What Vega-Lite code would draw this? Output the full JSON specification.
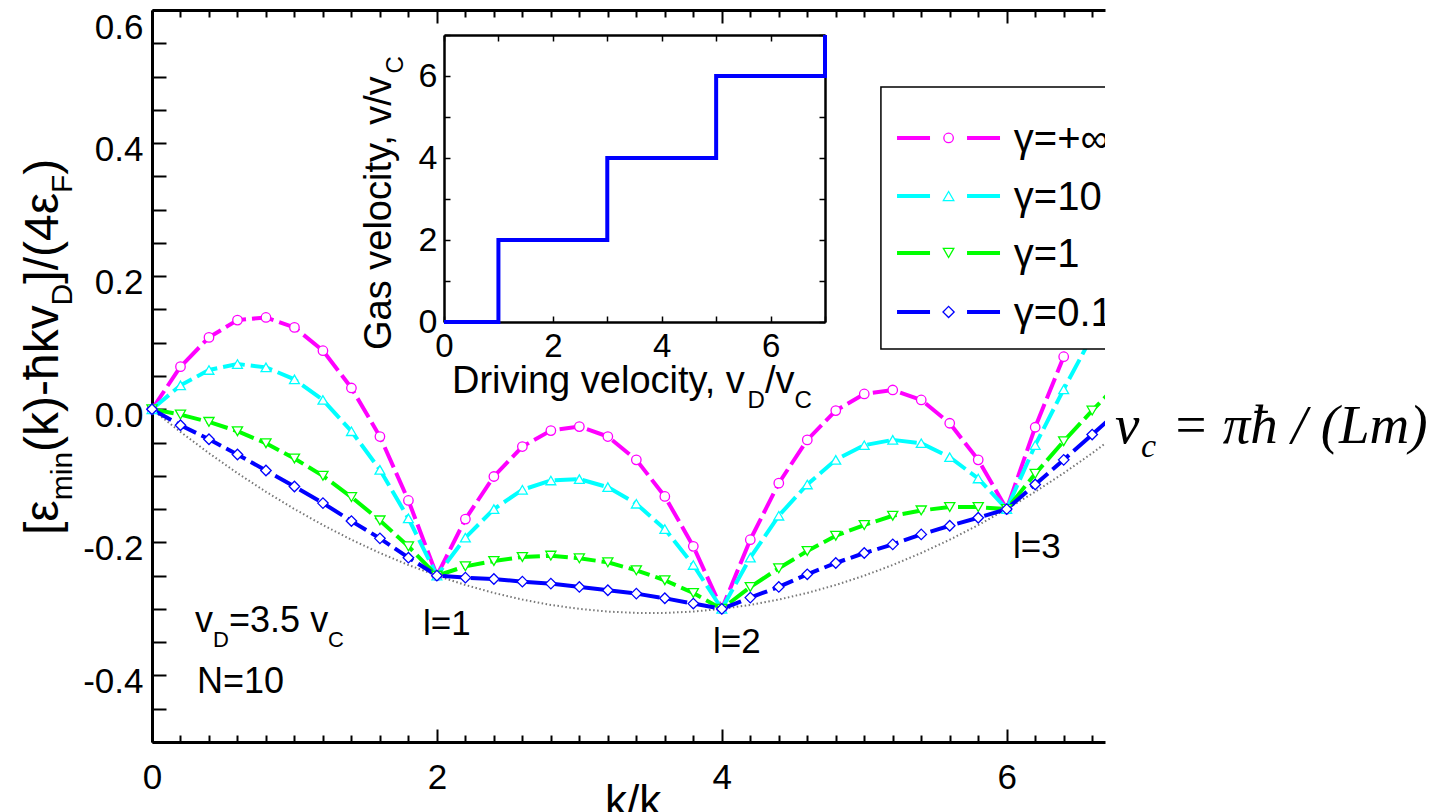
{
  "$schema": "https://vega.github.io/schema/vega-lite/v6.json",
  "autosize": {"type": "none"},
  "padding": {"left": 152, "top": 10, "right": 342, "bottom": 70},
  "width": 953,
  "height": 732,
  "background": "white",
  "config": {
    "view": {"stroke": null},
    "axis": {"grid": false, "domainColor": "black", "tickColor": "black", "labelColor": "black", "labelFont": "Liberation Sans", "titleFont": "Liberation Sans"},
    "text": {"font": "Liberation Sans", "color": "black"}
  },
  "datasets": {
    "curves": [
      {"series": "γ=+∞", "k": 0, "e": 0}, {"series": "γ=+∞", "k": 0.2, "e": 0.064}, {"series": "γ=+∞", "k": 0.4, "e": 0.108}, {"series": "γ=+∞", "k": 0.6, "e": 0.134}, {"series": "γ=+∞", "k": 0.8, "e": 0.138}, {"series": "γ=+∞", "k": 1, "e": 0.123}, {"series": "γ=+∞", "k": 1.2, "e": 0.088}, {"series": "γ=+∞", "k": 1.4, "e": 0.032}, {"series": "γ=+∞", "k": 1.6, "e": -0.041}, {"series": "γ=+∞", "k": 1.8, "e": -0.137}, {"series": "γ=+∞", "k": 2, "e": -0.25}, {"series": "γ=+∞", "k": 2.2, "e": -0.165}, {"series": "γ=+∞", "k": 2.4, "e": -0.101}, {"series": "γ=+∞", "k": 2.6, "e": -0.056}, {"series": "γ=+∞", "k": 2.8, "e": -0.032}, {"series": "γ=+∞", "k": 3, "e": -0.026}, {"series": "γ=+∞", "k": 3.2, "e": -0.041}, {"series": "γ=+∞", "k": 3.4, "e": -0.076}, {"series": "γ=+∞", "k": 3.6, "e": -0.131}, {"series": "γ=+∞", "k": 3.8, "e": -0.206}, {"series": "γ=+∞", "k": 4, "e": -0.3}, {"series": "γ=+∞", "k": 4.2, "e": -0.196}, {"series": "γ=+∞", "k": 4.4, "e": -0.111}, {"series": "γ=+∞", "k": 4.6, "e": -0.046}, {"series": "γ=+∞", "k": 4.8, "e": -0.002}, {"series": "γ=+∞", "k": 5, "e": 0.023}, {"series": "γ=+∞", "k": 5.2, "e": 0.029}, {"series": "γ=+∞", "k": 5.4, "e": 0.014}, {"series": "γ=+∞", "k": 5.6, "e": -0.021}, {"series": "γ=+∞", "k": 5.8, "e": -0.076}, {"series": "γ=+∞", "k": 6, "e": -0.15}, {"series": "γ=+∞", "k": 6.2, "e": -0.027}, {"series": "γ=+∞", "k": 6.4, "e": 0.079}, {"series": "γ=+∞", "k": 6.6, "e": 0.17}, {"series": "γ=+∞", "k": 6.8, "e": 0.25},
      {"series": "γ=10", "k": 0, "e": 0}, {"series": "γ=10", "k": 0.2, "e": 0.036}, {"series": "γ=10", "k": 0.4, "e": 0.059}, {"series": "γ=10", "k": 0.6, "e": 0.068}, {"series": "γ=10", "k": 0.8, "e": 0.063}, {"series": "γ=10", "k": 1, "e": 0.045}, {"series": "γ=10", "k": 1.2, "e": 0.014}, {"series": "γ=10", "k": 1.4, "e": -0.033}, {"series": "γ=10", "k": 1.6, "e": -0.091}, {"series": "γ=10", "k": 1.8, "e": -0.164}, {"series": "γ=10", "k": 2, "e": -0.25}, {"series": "γ=10", "k": 2.2, "e": -0.193}, {"series": "γ=10", "k": 2.4, "e": -0.15}, {"series": "γ=10", "k": 2.6, "e": -0.121}, {"series": "γ=10", "k": 2.8, "e": -0.107}, {"series": "γ=10", "k": 3, "e": -0.105}, {"series": "γ=10", "k": 3.2, "e": -0.117}, {"series": "γ=10", "k": 3.4, "e": -0.142}, {"series": "γ=10", "k": 3.6, "e": -0.18}, {"series": "γ=10", "k": 3.8, "e": -0.234}, {"series": "γ=10", "k": 4, "e": -0.3}, {"series": "γ=10", "k": 4.2, "e": -0.223}, {"series": "γ=10", "k": 4.4, "e": -0.16}, {"series": "γ=10", "k": 4.6, "e": -0.113}, {"series": "γ=10", "k": 4.8, "e": -0.076}, {"series": "γ=10", "k": 5, "e": -0.054}, {"series": "γ=10", "k": 5.2, "e": -0.046}, {"series": "γ=10", "k": 5.4, "e": -0.051}, {"series": "γ=10", "k": 5.6, "e": -0.072}, {"series": "γ=10", "k": 5.8, "e": -0.104}, {"series": "γ=10", "k": 6, "e": -0.15}, {"series": "γ=10", "k": 6.2, "e": -0.054}, {"series": "γ=10", "k": 6.4, "e": 0.03}, {"series": "γ=10", "k": 6.6, "e": 0.11}, {"series": "γ=10", "k": 6.8, "e": 0.18},
      {"series": "γ=1", "k": 0, "e": 0}, {"series": "γ=1", "k": 0.2, "e": -0.008}, {"series": "γ=1", "k": 0.4, "e": -0.019}, {"series": "γ=1", "k": 0.6, "e": -0.033}, {"series": "γ=1", "k": 0.8, "e": -0.051}, {"series": "γ=1", "k": 1, "e": -0.074}, {"series": "γ=1", "k": 1.2, "e": -0.1}, {"series": "γ=1", "k": 1.4, "e": -0.132}, {"series": "γ=1", "k": 1.6, "e": -0.167}, {"series": "γ=1", "k": 1.8, "e": -0.206}, {"series": "γ=1", "k": 2, "e": -0.25}, {"series": "γ=1", "k": 2.2, "e": -0.236}, {"series": "γ=1", "k": 2.4, "e": -0.228}, {"series": "γ=1", "k": 2.6, "e": -0.222}, {"series": "γ=1", "k": 2.8, "e": -0.22}, {"series": "γ=1", "k": 3, "e": -0.224}, {"series": "γ=1", "k": 3.2, "e": -0.23}, {"series": "γ=1", "k": 3.4, "e": -0.242}, {"series": "γ=1", "k": 3.6, "e": -0.257}, {"series": "γ=1", "k": 3.8, "e": -0.276}, {"series": "γ=1", "k": 4, "e": -0.3}, {"series": "γ=1", "k": 4.2, "e": -0.267}, {"series": "γ=1", "k": 4.4, "e": -0.239}, {"series": "γ=1", "k": 4.6, "e": -0.213}, {"series": "γ=1", "k": 4.8, "e": -0.19}, {"series": "γ=1", "k": 5, "e": -0.174}, {"series": "γ=1", "k": 5.2, "e": -0.16}, {"series": "γ=1", "k": 5.4, "e": -0.152}, {"series": "γ=1", "k": 5.6, "e": -0.147}, {"series": "γ=1", "k": 5.8, "e": -0.147}, {"series": "γ=1", "k": 6, "e": -0.15}, {"series": "γ=1", "k": 6.2, "e": -0.097}, {"series": "γ=1", "k": 6.4, "e": -0.048}, {"series": "γ=1", "k": 6.6, "e": -0.002}, {"series": "γ=1", "k": 6.8, "e": 0.042},
      {"series": "γ=0.1", "k": 0, "e": 0}, {"series": "γ=0.1", "k": 0.2, "e": -0.024}, {"series": "γ=0.1", "k": 0.4, "e": -0.045}, {"series": "γ=0.1", "k": 0.6, "e": -0.068}, {"series": "γ=0.1", "k": 0.8, "e": -0.092}, {"series": "γ=0.1", "k": 1, "e": -0.116}, {"series": "γ=0.1", "k": 1.2, "e": -0.141}, {"series": "γ=0.1", "k": 1.4, "e": -0.168}, {"series": "γ=0.1", "k": 1.6, "e": -0.194}, {"series": "γ=0.1", "k": 1.8, "e": -0.223}, {"series": "γ=0.1", "k": 2, "e": -0.25}, {"series": "γ=0.1", "k": 2.2, "e": -0.253}, {"series": "γ=0.1", "k": 2.4, "e": -0.255}, {"series": "γ=0.1", "k": 2.6, "e": -0.259}, {"series": "γ=0.1", "k": 2.8, "e": -0.262}, {"series": "γ=0.1", "k": 3, "e": -0.267}, {"series": "γ=0.1", "k": 3.2, "e": -0.272}, {"series": "γ=0.1", "k": 3.4, "e": -0.277}, {"series": "γ=0.1", "k": 3.6, "e": -0.284}, {"series": "γ=0.1", "k": 3.8, "e": -0.292}, {"series": "γ=0.1", "k": 4, "e": -0.3}, {"series": "γ=0.1", "k": 4.2, "e": -0.283}, {"series": "γ=0.1", "k": 4.4, "e": -0.267}, {"series": "γ=0.1", "k": 4.6, "e": -0.248}, {"series": "γ=0.1", "k": 4.8, "e": -0.231}, {"series": "γ=0.1", "k": 5, "e": -0.216}, {"series": "γ=0.1", "k": 5.2, "e": -0.203}, {"series": "γ=0.1", "k": 5.4, "e": -0.188}, {"series": "γ=0.1", "k": 5.6, "e": -0.175}, {"series": "γ=0.1", "k": 5.8, "e": -0.163}, {"series": "γ=0.1", "k": 6, "e": -0.15}, {"series": "γ=0.1", "k": 6.2, "e": -0.113}, {"series": "γ=0.1", "k": 6.4, "e": -0.076}, {"series": "γ=0.1", "k": 6.6, "e": -0.038}, {"series": "γ=0.1", "k": 6.8, "e": 0}
    ],
    "envelope": [
      {"k": 0, "e": 0}, {"k": 0.2, "e": -0.034}, {"k": 0.4, "e": -0.066}, {"k": 0.6, "e": -0.096}, {"k": 0.8, "e": -0.124}, {"k": 1, "e": -0.15}, {"k": 1.2, "e": -0.174}, {"k": 1.4, "e": -0.196}, {"k": 1.6, "e": -0.216}, {"k": 1.8, "e": -0.234}, {"k": 2, "e": -0.25}, {"k": 2.2, "e": -0.264}, {"k": 2.4, "e": -0.276}, {"k": 2.6, "e": -0.286}, {"k": 2.8, "e": -0.294}, {"k": 3, "e": -0.3}, {"k": 3.2, "e": -0.304}, {"k": 3.4, "e": -0.306}, {"k": 3.6, "e": -0.306}, {"k": 3.8, "e": -0.304}, {"k": 4, "e": -0.3}, {"k": 4.2, "e": -0.294}, {"k": 4.4, "e": -0.286}, {"k": 4.6, "e": -0.276}, {"k": 4.8, "e": -0.264}, {"k": 5, "e": -0.25}, {"k": 5.2, "e": -0.234}, {"k": 5.4, "e": -0.216}, {"k": 5.6, "e": -0.196}, {"k": 5.8, "e": -0.174}, {"k": 6, "e": -0.15}, {"k": 6.2, "e": -0.124}, {"k": 6.4, "e": -0.096}, {"k": 6.6, "e": -0.066}, {"k": 6.8, "e": -0.034}
    ],
    "steps": [
      {"vd": 0, "v": 0}, {"vd": 1, "v": 2}, {"vd": 3, "v": 4}, {"vd": 5, "v": 6}, {"vd": 7, "v": 7}
    ]
  },
  "layer": [
    {
      "layer": [
        {
          "data": {"name": "envelope"},
          "mark": {"type": "line", "color": "#777777", "strokeWidth": 2, "strokeDash": [1.5, 2.5], "clip": true},
          "encoding": {
            "x": {"field": "k", "type": "quantitative", "scale": {"domain": [0, 6.69], "nice": false, "zero": false},
              "axis": {"orient": "bottom", "title": null, "values": [0, 2, 4, 6], "format": "d",
                "ticks": false, "tickSize": 0, "domainWidth": 3, "labelFontSize": 35, "labelPadding": 18,
                "labelFlush": false, "labelOverlap": false, "labelBound": false}},
            "y": {"field": "e", "type": "quantitative", "scale": {"domain": [-0.5, 0.6], "nice": false, "zero": false},
              "axis": {"orient": "left", "title": null, "values": [-0.4, -0.2, 0, 0.2, 0.4, 0.6],
                "labelExpr": "(datum.value < -0.001 ? '-' : '') + format(abs(datum.value), '.1f')",
                "ticks": false, "tickSize": 0, "domainWidth": 3, "labelFontSize": 35, "labelPadding": 9,
                "labelFlush": true, "labelFlushOffset": 6, "labelOffset": 6,
                "labelOverlap": false, "labelBound": false}}
          }
        },
        {
          "data": {"name": "curves"},
          "mark": {"type": "line", "strokeWidth": 4, "strokeDash": [22, 6], "clip": true},
          "encoding": {
            "x": {"field": "k", "type": "quantitative",
              "axis": {"orient": "top", "offset": -732, "title": null, "labels": false, "domain": false,
                "values": [0, 0.2, 0.4, 0.6, 0.8, 1, 1.2, 1.4, 1.6, 1.8, 2, 2.2, 2.4, 2.6, 2.8, 3, 3.2, 3.4, 3.6, 3.8, 4, 4.2, 4.4, 4.6, 4.8, 5, 5.2, 5.4, 5.6, 5.8, 6, 6.2, 6.4, 6.6],
                "tickSize": {"condition": {"test": "datum.value % 2 === 0", "value": 13}, "value": 7},
                "tickWidth": 2}},
            "y": {"field": "e", "type": "quantitative",
              "axis": {"orient": "right", "offset": -953, "title": null, "labels": false, "domain": false,
                "values": [-0.5, -0.45, -0.4, -0.35, -0.3, -0.25, -0.2, -0.15, -0.1, -0.05, 0, 0.05, 0.1, 0.15, 0.2, 0.25, 0.3, 0.35, 0.4, 0.45, 0.5, 0.55, 0.6],
                "tickSize": 14, "tickWidth": 2}},
            "color": {"field": "series", "type": "nominal", "legend": null,
              "scale": {"domain": ["γ=+∞", "γ=10", "γ=1", "γ=0.1"], "range": ["#ff00ff", "#00ffff", "#00ff00", "#0000ff"]}}
          }
        },
        {
          "data": {"name": "curves"},
          "transform": [{"filter": "datum.k < 6.7"}],
          "mark": {"type": "point", "filled": false, "fill": "white", "fillOpacity": 1, "strokeWidth": 1.3, "opacity": 1, "clip": false},
          "encoding": {
            "x": {"field": "k", "type": "quantitative",
              "axis": {"orient": "top", "title": null, "labels": false, "ticks": false, "tickSize": 0, "domainWidth": 3}},
            "y": {"field": "e", "type": "quantitative", "axis": null},
            "color": {"field": "series", "type": "nominal", "legend": null,
              "scale": {"domain": ["γ=+∞", "γ=10", "γ=1", "γ=0.1"], "range": ["#ff00ff", "#00ffff", "#00ff00", "#0000ff"]}},
            "shape": {"field": "series", "type": "nominal", "legend": null,
              "scale": {"domain": ["γ=+∞", "γ=10", "γ=1", "γ=0.1"], "range": ["circle", "triangle-up", "triangle-down", "diamond"]}},
            "size": {"field": "series", "type": "ordinal", "legend": null,
              "scale": {"domain": ["γ=+∞", "γ=10", "γ=1", "γ=0.1"], "range": [90, 110, 110, 125]}}
          }
        },
        {
          "data": {"values": [{}]},
          "mark": {"type": "rect", "fill": "white", "stroke": "black", "strokeWidth": 1.5, "clip": true},
          "encoding": {
            "x": {"datum": 5.117, "type": "quantitative",
              "axis": {"orient": "bottom", "offset": -732, "title": null, "labels": false, "domain": false,
                "values": [0, 0.2, 0.4, 0.6, 0.8, 1, 1.2, 1.4, 1.6, 1.8, 2, 2.2, 2.4, 2.6, 2.8, 3, 3.2, 3.4, 3.6, 3.8, 4, 4.2, 4.4, 4.6, 4.8, 5, 5.2, 5.4, 5.6, 5.8, 6, 6.2, 6.4, 6.6],
                "tickSize": {"condition": {"test": "datum.value % 2 === 0", "value": 13}, "value": 7},
                "tickWidth": 2}},
            "x2": {"datum": 7.5}, "y": {"datum": 0.4843, "type": "quantitative", "axis": null}, "y2": {"datum": 0.0906}}
        },
        {"data": {"values": [{}]}, "mark": {"type": "rule", "color": "#ff00ff", "strokeWidth": 4, "strokeDash": [33, 37], "clip": true},
          "encoding": {"x": {"datum": 5.23, "type": "quantitative", "axis": null}, "x2": {"datum": 5.953}, "y": {"datum": 0.4077, "type": "quantitative", "axis": null}}},
        {"data": {"values": [{}]}, "mark": {"type": "rule", "color": "#00ffff", "strokeWidth": 4, "strokeDash": [33, 37], "clip": true},
          "encoding": {"x": {"datum": 5.23, "type": "quantitative", "axis": null}, "x2": {"datum": 5.953}, "y": {"datum": 0.3205, "type": "quantitative", "axis": null}}},
        {"data": {"values": [{}]}, "mark": {"type": "rule", "color": "#00ff00", "strokeWidth": 4, "strokeDash": [33, 37], "clip": true},
          "encoding": {"x": {"datum": 5.23, "type": "quantitative", "axis": null}, "x2": {"datum": 5.953}, "y": {"datum": 0.2349, "type": "quantitative", "axis": null}}},
        {"data": {"values": [{}]}, "mark": {"type": "rule", "color": "#0000ff", "strokeWidth": 4, "strokeDash": [33, 37], "clip": true},
          "encoding": {"x": {"datum": 5.23, "type": "quantitative", "axis": null}, "x2": {"datum": 5.953}, "y": {"datum": 0.1462, "type": "quantitative", "axis": null}}},
        {"data": {"values": [{}]}, "mark": {"type": "point", "shape": "circle", "size": 90, "filled": false, "fill": "white", "fillOpacity": 1, "stroke": "#ff00ff", "strokeWidth": 1.3, "opacity": 1, "clip": true},
          "encoding": {"x": {"datum": 5.592, "type": "quantitative", "axis": null}, "y": {"datum": 0.4077, "type": "quantitative", "axis": null}}},
        {"data": {"values": [{}]}, "mark": {"type": "point", "shape": "triangle-up", "size": 110, "filled": false, "fill": "white", "fillOpacity": 1, "stroke": "#00ffff", "strokeWidth": 1.3, "opacity": 1, "clip": true},
          "encoding": {"x": {"datum": 5.592, "type": "quantitative", "axis": null}, "y": {"datum": 0.3205, "type": "quantitative", "axis": null}}},
        {"data": {"values": [{}]}, "mark": {"type": "point", "shape": "triangle-down", "size": 110, "filled": false, "fill": "white", "fillOpacity": 1, "stroke": "#00ff00", "strokeWidth": 1.3, "opacity": 1, "clip": true},
          "encoding": {"x": {"datum": 5.592, "type": "quantitative", "axis": null}, "y": {"datum": 0.2349, "type": "quantitative", "axis": null}}},
        {"data": {"values": [{}]}, "mark": {"type": "point", "shape": "diamond", "size": 125, "filled": false, "fill": "white", "fillOpacity": 1, "stroke": "#0000ff", "strokeWidth": 1.3, "opacity": 1, "clip": true},
          "encoding": {"x": {"datum": 5.592, "type": "quantitative", "axis": null}, "y": {"datum": 0.1462, "type": "quantitative", "axis": null}}},
        {"data": {"values": [{}]}, "mark": {"type": "text", "text": "γ=+∞", "align": "left", "baseline": "middle", "fontSize": 40, "clip": true},
          "encoding": {"x": {"datum": 6.05, "type": "quantitative", "axis": null}, "y": {"datum": 0.4047, "type": "quantitative", "axis": null}}},
        {"data": {"values": [{}]}, "mark": {"type": "text", "text": "γ=10", "align": "left", "baseline": "middle", "fontSize": 40, "clip": true},
          "encoding": {"x": {"datum": 6.05, "type": "quantitative", "axis": null}, "y": {"datum": 0.3175, "type": "quantitative", "axis": null}}},
        {"data": {"values": [{}]}, "mark": {"type": "text", "text": "γ=1", "align": "left", "baseline": "middle", "fontSize": 40, "clip": true},
          "encoding": {"x": {"datum": 6.05, "type": "quantitative", "axis": null}, "y": {"datum": 0.2319, "type": "quantitative", "axis": null}}},
        {"data": {"values": [{}]}, "mark": {"type": "text", "text": "γ=0.1", "align": "left", "baseline": "middle", "fontSize": 40, "clip": true},
          "encoding": {"x": {"datum": 6.05, "type": "quantitative", "axis": null}, "y": {"datum": 0.1432, "type": "quantitative", "axis": null}}},
        {"data": {"values": [{}]}, "mark": {"type": "text", "text": "v", "align": "left", "baseline": "alphabetic", "fontSize": 36},
          "encoding": {"x": {"datum": 0.302, "type": "quantitative", "axis": null}, "y": {"datum": -0.3346, "type": "quantitative", "axis": null}}},
        {"data": {"values": [{}]}, "mark": {"type": "text", "text": "D", "align": "left", "baseline": "alphabetic", "fontSize": 22},
          "encoding": {"x": {"datum": 0.428, "type": "quantitative", "axis": null}, "y": {"datum": -0.3572, "type": "quantitative", "axis": null}}},
        {"data": {"values": [{}]}, "mark": {"type": "text", "text": "=3.5 v", "align": "left", "baseline": "alphabetic", "fontSize": 36},
          "encoding": {"x": {"datum": 0.541, "type": "quantitative", "axis": null}, "y": {"datum": -0.3346, "type": "quantitative", "axis": null}}},
        {"data": {"values": [{}]}, "mark": {"type": "text", "text": "C", "align": "left", "baseline": "alphabetic", "fontSize": 22},
          "encoding": {"x": {"datum": 1.236, "type": "quantitative", "axis": null}, "y": {"datum": -0.3572, "type": "quantitative", "axis": null}}},
        {"data": {"values": [{}]}, "mark": {"type": "text", "text": "N=10", "align": "left", "baseline": "alphabetic", "fontSize": 36},
          "encoding": {"x": {"datum": 0.316, "type": "quantitative", "axis": null}, "y": {"datum": -0.4263, "type": "quantitative", "axis": null}}},
        {"data": {"values": [{}]}, "mark": {"type": "text", "text": "l=1", "align": "left", "baseline": "alphabetic", "fontSize": 35},
          "encoding": {"x": {"datum": 1.902, "type": "quantitative", "axis": null}, "y": {"datum": -0.3391, "type": "quantitative", "axis": null}}},
        {"data": {"values": [{}]}, "mark": {"type": "text", "text": "l=2", "align": "left", "baseline": "alphabetic", "fontSize": 35},
          "encoding": {"x": {"datum": 3.938, "type": "quantitative", "axis": null}, "y": {"datum": -0.3662, "type": "quantitative", "axis": null}}},
        {"data": {"values": [{}]}, "mark": {"type": "text", "text": "l=3", "align": "left", "baseline": "alphabetic", "fontSize": 35},
          "encoding": {"x": {"datum": 6.044, "type": "quantitative", "axis": null}, "y": {"datum": -0.2234, "type": "quantitative", "axis": null}}},
        {"data": {"values": [{}]}, "mark": {"type": "text", "text": "k/k", "align": "left", "baseline": "alphabetic", "fontSize": 44},
          "encoding": {"x": {"datum": 3.18, "type": "quantitative", "axis": null}, "y": {"datum": -0.6111, "type": "quantitative", "axis": null}}},
        {"data": {"values": [{}]}, "mark": {"type": "text", "text": "F", "align": "left", "baseline": "alphabetic", "fontSize": 27},
          "encoding": {"x": {"datum": 3.575, "type": "quantitative", "axis": null}, "y": {"datum": -0.6411, "type": "quantitative", "axis": null}}},
        {"data": {"values": [{}]}, "mark": {"type": "text", "text": "[ε", "angle": 270, "align": "left", "baseline": "alphabetic", "fontSize": 48},
          "encoding": {"x": {"datum": -0.66, "type": "quantitative", "axis": null}, "y": {"datum": -0.1889, "type": "quantitative", "axis": null}}},
        {"data": {"values": [{}]}, "mark": {"type": "text", "text": "min", "angle": 270, "align": "left", "baseline": "alphabetic", "fontSize": 30},
          "encoding": {"x": {"datum": -0.562, "type": "quantitative", "axis": null}, "y": {"datum": -0.1367, "type": "quantitative", "axis": null}}},
        {"data": {"values": [{}]}, "mark": {"type": "text", "text": "(k)-ħkv", "angle": 270, "align": "left", "baseline": "alphabetic", "fontSize": 48},
          "encoding": {"x": {"datum": -0.66, "type": "quantitative", "axis": null}, "y": {"datum": -0.0642, "type": "quantitative", "axis": null}}},
        {"data": {"values": [{}]}, "mark": {"type": "text", "text": "D", "angle": 270, "align": "left", "baseline": "alphabetic", "fontSize": 30},
          "encoding": {"x": {"datum": -0.562, "type": "quantitative", "axis": null}, "y": {"datum": 0.1561, "type": "quantitative", "axis": null}}},
        {"data": {"values": [{}]}, "mark": {"type": "text", "text": "]/(4ε", "angle": 270, "align": "left", "baseline": "alphabetic", "fontSize": 48},
          "encoding": {"x": {"datum": -0.66, "type": "quantitative", "axis": null}, "y": {"datum": 0.1887, "type": "quantitative", "axis": null}}},
        {"data": {"values": [{}]}, "mark": {"type": "text", "text": "F", "angle": 270, "align": "left", "baseline": "alphabetic", "fontSize": 30},
          "encoding": {"x": {"datum": -0.562, "type": "quantitative", "axis": null}, "y": {"datum": 0.325, "type": "quantitative", "axis": null}}},
        {"data": {"values": [{}]}, "mark": {"type": "text", "text": ")", "angle": 270, "align": "left", "baseline": "alphabetic", "fontSize": 48},
          "encoding": {"x": {"datum": -0.66, "type": "quantitative", "axis": null}, "y": {"datum": 0.3525, "type": "quantitative", "axis": null}}},
        {"data": {"values": [{}]}, "mark": {"type": "text", "text": "v", "align": "left", "baseline": "alphabetic", "fontSize": 55, "font": "Liberation Serif", "fontStyle": "italic"},
          "encoding": {"x": {"datum": 6.76, "type": "quantitative", "axis": null}, "y": {"datum": -0.0506, "type": "quantitative", "axis": null}}},
        {"data": {"values": [{}]}, "mark": {"type": "text", "text": "c", "align": "left", "baseline": "alphabetic", "fontSize": 34, "font": "Liberation Serif", "fontStyle": "italic"},
          "encoding": {"x": {"datum": 6.943, "type": "quantitative", "axis": null}, "y": {"datum": -0.0717, "type": "quantitative", "axis": null}}},
        {"data": {"values": [{}]}, "mark": {"type": "text", "text": "= πħ / (Lm)", "align": "left", "baseline": "alphabetic", "fontSize": 55, "font": "Liberation Serif", "fontStyle": "italic"},
          "encoding": {"x": {"datum": 7.16, "type": "quantitative", "axis": null}, "y": {"datum": -0.0506, "type": "quantitative", "axis": null}}}
      ],
      "resolve": {"axis": {"x": "independent", "y": "independent"}}
    },
    {
      "layer": [
        {
          "data": {"name": "steps"},
          "mark": {"type": "line", "interpolate": "step-after", "color": "#0000ff", "strokeWidth": 4},
          "encoding": {
            "x": {"field": "vd", "type": "quantitative", "scale": {"domain": [0, 7], "range": [292, 673], "nice": false, "zero": false},
              "axis": {"orient": "bottom", "offset": -420, "title": null, "values": [0, 2, 4, 6], "format": "d",
                "ticks": false, "tickSize": 0, "domainWidth": 2.5, "labelFontSize": 33, "labelPadding": 8,
                "labelFlush": false, "labelOverlap": false, "labelBound": false}},
            "y": {"field": "v", "type": "quantitative", "scale": {"domain": [0, 7], "range": [312, 25], "nice": false, "zero": false},
              "axis": {"orient": "left", "offset": -292, "title": null, "values": [0, 2, 4, 6], "format": "d",
                "ticks": false, "tickSize": 0, "domainWidth": 2.5, "labelFontSize": 34, "labelPadding": 7,
                "labelFlush": false, "labelOverlap": false, "labelBound": false}}
          }
        },
        {"data": {"values": [{}]}, "mark": {"type": "text", "text": "Driving velocity, v", "align": "left", "baseline": "alphabetic", "fontSize": 38},
          "encoding": {
            "x": {"datum": 0.147, "type": "quantitative",
              "axis": {"orient": "top", "offset": -312, "title": null, "labels": false, "domain": false, "values": [0, 1, 2, 3, 4, 5, 6, 7], "tickSize": 6, "tickWidth": 1.5}},
            "y": {"datum": -1.732, "type": "quantitative",
              "axis": {"orient": "right", "offset": -661, "title": null, "labels": false, "domain": false, "values": [0, 1, 2, 3, 4, 5, 6, 7], "tickSize": 6, "tickWidth": 1.5}}}},
        {"data": {"values": [{}]}, "mark": {"type": "text", "text": "D", "align": "left", "baseline": "alphabetic", "fontSize": 24},
          "encoding": {
            "x": {"datum": 5.578, "type": "quantitative",
              "axis": {"orient": "top", "offset": -25, "title": null, "labels": false, "ticks": false, "tickSize": 0, "domainWidth": 2.5}},
            "y": {"datum": -2.098, "type": "quantitative",
              "axis": {"orient": "right", "offset": -280, "title": null, "labels": false, "ticks": false, "tickSize": 0, "domainWidth": 2.5}}}},
        {"data": {"values": [{}]}, "mark": {"type": "text", "text": "/v", "align": "left", "baseline": "alphabetic", "fontSize": 38},
          "encoding": {
            "x": {"datum": 5.896, "type": "quantitative",
              "axis": {"orient": "bottom", "offset": -707, "title": null, "labels": false, "domain": false, "values": [0, 1, 2, 3, 4, 5, 6, 7], "tickSize": 6, "tickWidth": 1.5}},
            "y": {"datum": -1.732, "type": "quantitative",
              "axis": {"orient": "left", "offset": -673, "title": null, "labels": false, "domain": false, "values": [0, 1, 2, 3, 4, 5, 6, 7], "tickSize": 6, "tickWidth": 1.5}}}},
        {"data": {"values": [{}]}, "mark": {"type": "text", "text": "C", "align": "left", "baseline": "alphabetic", "fontSize": 24},
          "encoding": {"x": {"datum": 6.44, "type": "quantitative", "axis": null}, "y": {"datum": -2.098, "type": "quantitative", "axis": null}}},
        {"data": {"values": [{}]}, "mark": {"type": "text", "text": "Gas velocity, v/v", "angle": 270, "align": "left", "baseline": "alphabetic", "fontSize": 38},
          "encoding": {"x": {"datum": -0.974, "type": "quantitative", "axis": null}, "y": {"datum": -0.683, "type": "quantitative", "axis": null}}},
        {"data": {"values": [{}]}, "mark": {"type": "text", "text": "C", "angle": 270, "align": "left", "baseline": "alphabetic", "fontSize": 24},
          "encoding": {"x": {"datum": -0.753, "type": "quantitative", "axis": null}, "y": {"datum": 6.063, "type": "quantitative", "axis": null}}}
      ],
      "resolve": {"axis": {"x": "independent", "y": "independent"}}
    }
  ],
  "resolve": {"scale": {"x": "independent", "y": "independent"}}
}
